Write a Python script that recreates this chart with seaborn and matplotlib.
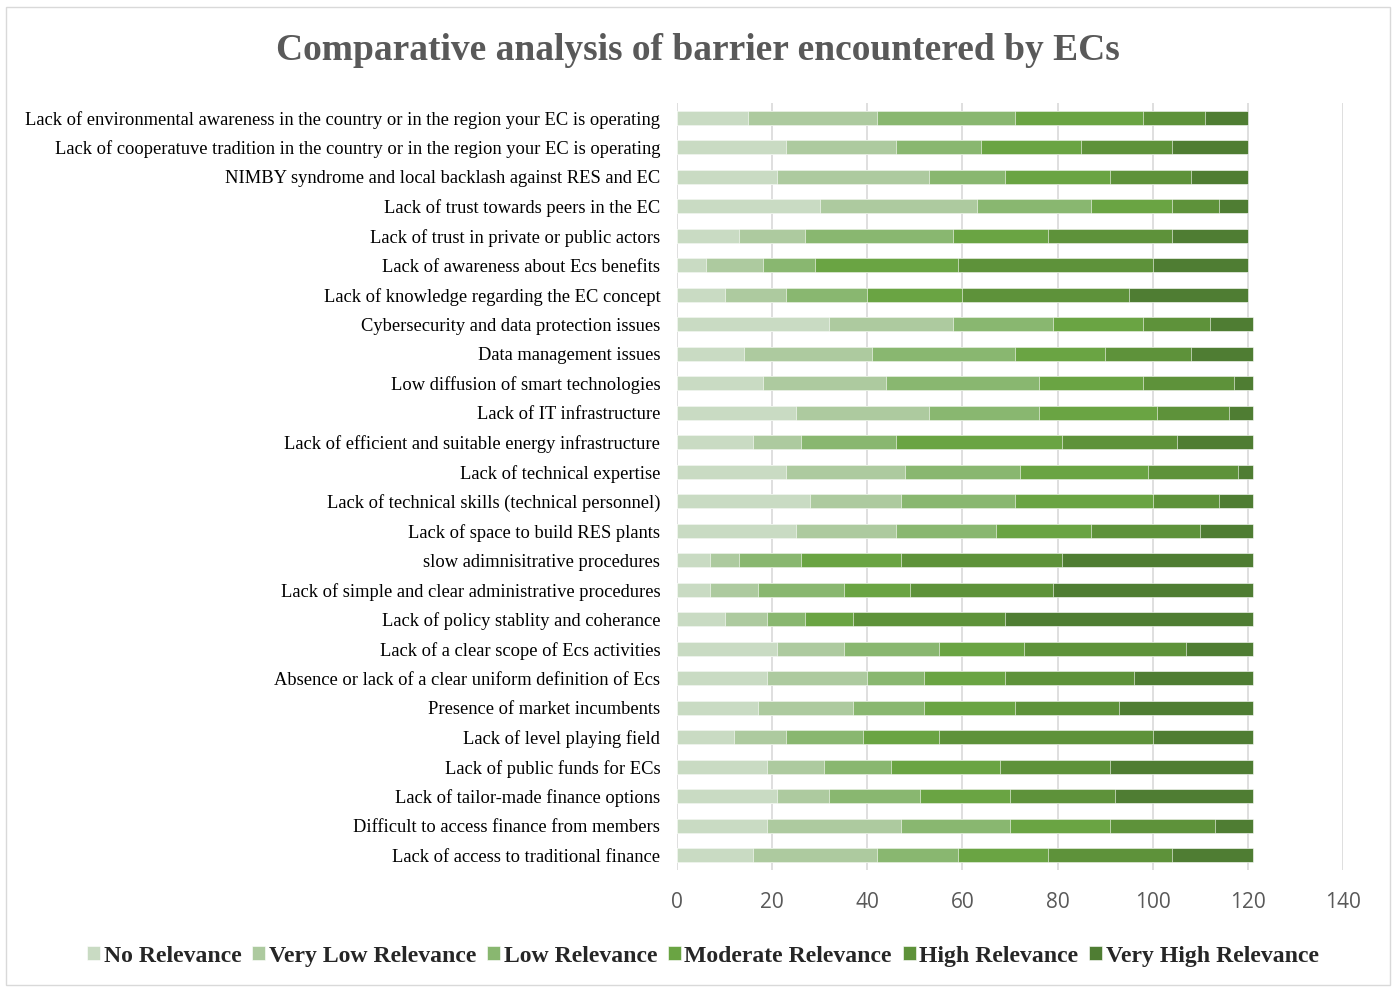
import matplotlib
matplotlib.use("Agg")
import matplotlib.pyplot as plt
import matplotlib.patches as mpatches
import seaborn as sns
import numpy as np
import pandas as pd

categories = [
    "Lack of environmental awareness in the country or in the region your EC is operating",
    "Lack of cooperatuve tradition in the country or in the region your EC is operating",
    "NIMBY syndrome and local backlash against RES and EC",
    "Lack of trust towards peers in the EC",
    "Lack of trust in private or public actors",
    "Lack of awareness about Ecs benefits",
    "Lack of knowledge regarding the EC concept",
    "Cybersecurity and data protection issues",
    "Data management issues",
    "Low diffusion of smart technologies",
    "Lack of IT infrastructure",
    "Lack of efficient and suitable energy infrastructure",
    "Lack of technical expertise",
    "Lack of technical skills (technical personnel)",
    "Lack of space to build RES plants",
    "slow adimnisitrative procedures",
    "Lack of simple and clear administrative procedures",
    "Lack of policy stablity and coherance",
    "Lack of a clear scope of Ecs activities",
    "Absence or lack of a clear uniform definition of Ecs",
    "Presence of market incumbents",
    "Lack of level playing field",
    "Lack of public funds for ECs",
    "Lack of tailor-made finance options",
    "Difficult to access finance from members",
    "Lack of access to traditional finance",
]

no_relevance       = [15, 23, 21, 30, 13, 6, 10, 32, 14, 18, 25, 16, 23, 28, 25, 7, 7, 10, 21, 19, 17, 12, 19, 21, 19, 16]
very_low_relevance = [27, 23, 32, 33, 14, 12, 13, 26, 27, 26, 28, 10, 25, 19, 21, 6, 10, 9, 14, 21, 20, 11, 12, 11, 28, 26]
low_relevance      = [29, 18, 16, 24, 31, 11, 17, 21, 30, 32, 23, 20, 24, 24, 21, 13, 18, 8, 20, 12, 15, 16, 14, 19, 23, 17]
moderate_relevance = [27, 21, 22, 17, 20, 30, 20, 19, 19, 22, 25, 35, 27, 29, 20, 21, 14, 10, 18, 17, 19, 16, 23, 19, 21, 19]
high_relevance     = [13, 19, 17, 10, 26, 41, 35, 14, 18, 19, 15, 24, 19, 14, 23, 34, 30, 32, 34, 27, 22, 45, 23, 22, 22, 26]
very_high_relevance= [9, 16, 12, 6, 16, 20, 25, 9, 13, 4, 5, 16, 3, 7, 11, 40, 42, 52, 14, 25, 28, 21, 30, 29, 8, 17]

series_names = ["No Relevance", "Very Low Relevance", "Low Relevance",
                "Moderate Relevance", "High Relevance", "Very High Relevance"]
series = [no_relevance, very_low_relevance, low_relevance,
          moderate_relevance, high_relevance, very_high_relevance]
colors = ["#C9DBC3", "#ADCA9F", "#89B770", "#6AA443", "#5E923A", "#4F7D33"]

df = pd.DataFrame({n: v for n, v in zip(series_names, series)})
df["Barrier"] = categories
cum = df[series_names].cumsum(axis=1)

sns.set_theme(style="white")
plt.rcParams["font.family"] = ["Liberation Serif", "DejaVu Serif"]

fig = plt.figure(figsize=(13.96, 9.88), dpi=100)
ax = fig.add_axes([677/1396, 1 - 870/988, (1343-677)/1396, (870-103)/988])

for i in reversed(range(len(series_names))):
    sns.barplot(x=cum[series_names[i]], y=df["Barrier"], color=colors[i],
                orient="h", width=0.46, ax=ax, label=series_names[i],
                edgecolor="white", linewidth=0.4, saturation=1)

ax.set_xlim(0, 140)
ax.set_ylim(25.5, -0.5)
ax.set_xticks(np.arange(0, 141, 20))
ax.xaxis.grid(True, color="#D9D9D9", linewidth=1.2)
ax.set_axisbelow(True)
for s in ax.spines.values():
    s.set_visible(False)
ax.set_xlabel("")
ax.set_ylabel("")
ax.tick_params(axis="y", length=0, pad=12, labelsize=13.3, labelcolor="black")
ax.tick_params(axis="x", length=0, pad=16)
for lab in ax.get_xticklabels():
    lab.set_fontfamily(["Open Sans", "DejaVu Sans"])
    lab.set_fontsize(15)
    lab.set_color("#595959")
for lab in ax.get_yticklabels():
    lab.set_fontfamily(["Liberation Serif", "DejaVu Serif"])

handles, labels = ax.get_legend_handles_labels()
order = [labels.index(n) for n in series_names]
if ax.get_legend() is not None:
    ax.get_legend().remove()
fig.legend([handles[k] for k in order], [labels[k] for k in order],
           loc="center", bbox_to_anchor=(0.5035, 1 - 956/988), ncol=6,
           frameon=False, handlelength=0.55, handleheight=0.55,
           handletextpad=0.15, columnspacing=0.45,
           prop={"family": "Liberation Serif", "weight": "bold", "size": 17.1})

fig.text(0.5, 1 - 50/988, "Comparative analysis of barrier encountered by ECs",
         ha="center", va="center", fontsize=27, fontweight="bold",
         color="#595959", family="Liberation Serif")

fig.patches.append(mpatches.Rectangle((6/1396, 1 - 985/988), (1390-6)/1396, (985-7)/988,
                                      transform=fig.transFigure, fill=False,
                                      edgecolor="#D9D9D9", linewidth=1))

fig.savefig("out.png", dpi=100)
